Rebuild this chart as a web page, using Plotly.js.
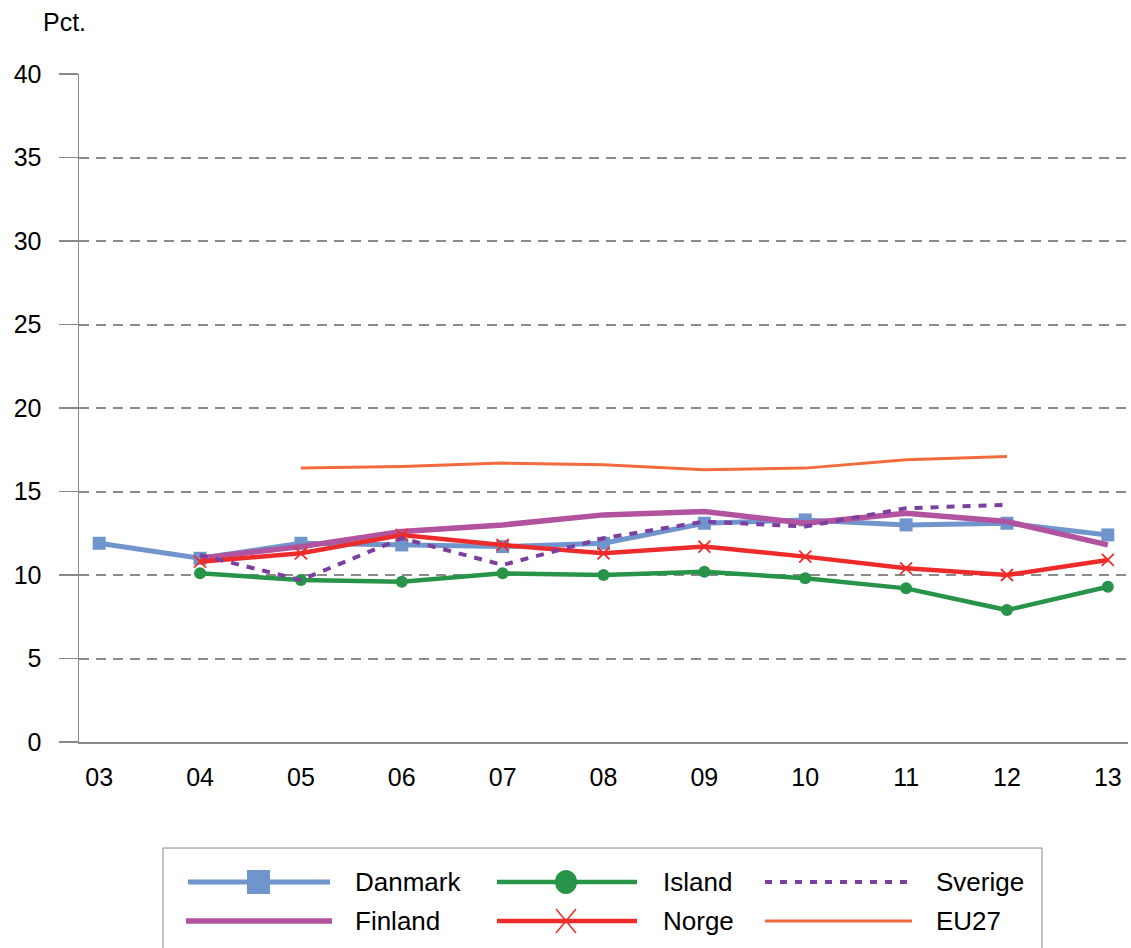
<!DOCTYPE html>
<html><head><meta charset="utf-8">
<script src="https://cdn.plot.ly/plotly-3.0.1.min.js"></script>
<style>html,body{margin:0;padding:0;background:#fff;}#chart{width:1131px;height:948px;}</style>
</head><body><div id="chart"></div>
<script>
const years = ['03','04','05','06','07','08','09','10','11','12','13'];
const danmark = [11.9, 11.0, 11.9, 11.8, 11.7, 11.9, 13.1, 13.3, 13.0, 13.1, 12.4];
const island  = [null, 10.1, 9.7, 9.6, 10.1, 10.0, 10.2, 9.8, 9.2, 7.9, 9.3];
const sverige = [null, 11.2, 9.7, 12.2, 10.6, 12.2, 13.2, 12.9, 14.0, 14.2, null];
const finland = [null, 11.0, 11.7, 12.6, 13.0, 13.6, 13.8, 13.1, 13.7, 13.2, 11.8];
const norge   = [null, 10.8, 11.3, 12.4, 11.8, 11.3, 11.7, 11.1, 10.4, 10.0, 10.9];
const eu27    = [null, null, 16.4, 16.5, 16.7, 16.6, 16.3, 16.4, 16.9, 17.1, null];
const yTicks = [0,5,10,15,20,25,30,35,40];

const C = {dk:'#7094cc', fi:'#b1539e', is:'#28944a', no:'#ee2b2b', se:'#7b3fa0', eu:'#f26b3f'};

const traces = [
  {name:'EU27', x:years, y:eu27, mode:'lines', line:{color:C.eu, width:3}},
  {name:'Island', x:years, y:island, mode:'lines+markers', line:{color:C.is, width:4.5},
   marker:{symbol:'circle', size:12, color:C.is}},
  {name:'Danmark', x:years, y:danmark, mode:'lines+markers', line:{color:C.dk, width:5},
   marker:{symbol:'square', size:13, color:C.dk}},
  {name:'Finland', x:years, y:finland, mode:'lines', line:{color:C.fi, width:5.5}},
  {name:'Norge', x:years, y:norge, mode:'lines+markers', line:{color:C.no, width:4.5},
   marker:{symbol:'x-thin-open', size:12, color:C.no, line:{color:C.no, width:1.8}}},
  {name:'Sverige', x:years, y:sverige, mode:'lines', line:{color:C.se, width:4, dash:'8px,8px'}}
];

// custom legend (Danmark, Island, Sverige / Finland, Norge, EU27)
const shapes = [];
const annotations = [];
const W = 1131, H = 948;
const ML = 79, MT = 74, PW = 1049, PH = 668;
const fx = v => (v - ML) / PW, fy = v => 1 - (v - MT) / PH;
function pline(x0,x1,y,color,width,dash){
  shapes.push({type:'line', xref:'paper', yref:'paper', x0:fx(x0), x1:fx(x1), y0:fy(y), y1:fy(y),
    line:{color:color, width:width, dash:dash||'solid'}, layer:'above'});
}
shapes.push({type:'rect', xref:'paper', yref:'paper', x0:fx(163), x1:fx(1042), y0:fy(848), y1:fy(960),
  line:{color:'#888', width:1}, fillcolor:'rgba(0,0,0,0)'});
const r1 = 882, r2 = 921;
pline(188,330,r1,C.dk,5);
shapes.push({type:'rect', xref:'paper', yref:'paper', x0:fx(247), x1:fx(270), y0:fy(r1-12), y1:fy(r1+12),
  fillcolor:C.dk, line:{width:0}});
pline(186,332,r2,C.fi,5.5);
pline(497,637,r1,C.is,4.5);
shapes.push({type:'circle', xref:'paper', yref:'paper', x0:fx(555), x1:fx(577), y0:fy(r1-12), y1:fy(r1+12),
  fillcolor:C.is, line:{width:0}});
pline(497,637,r2,C.no,4.5);
shapes.push({type:'line', xref:'paper', yref:'paper', x0:fx(556), x1:fx(576), y0:fy(r2-12), y1:fy(r2+12), line:{color:C.no, width:1.5}});
shapes.push({type:'line', xref:'paper', yref:'paper', x0:fx(556), x1:fx(576), y0:fy(r2+12), y1:fy(r2-12), line:{color:C.no, width:1.5}});
pline(765,912,r1,C.se,4,'7px,8px');
pline(765,912,r2,C.eu,3);
const lt = [['Danmark',353,r1],['Finland',353,r2],['Island',661,r1],['Norge',661,r2],['Sverige',934,r1],['EU27',934,r2]];
lt.forEach(([t,x,y]) => annotations.push({text:t, xref:'paper', yref:'paper', x:fx(x), y:fy(y),
  xanchor:'left', yanchor:'middle', showarrow:false, font:{size:26, color:'#000'}}));
annotations.push({text:'Pct.', xref:'paper', yref:'paper', x:fx(41), y:fy(22), xanchor:'left', yanchor:'middle',
  showarrow:false, font:{size:25, color:'#000'}});

const layout = {
  width:W, height:H,
  margin:{l:ML, r:W-ML-PW, t:MT, b:H-MT-PH},
  paper_bgcolor:'#fff', plot_bgcolor:'#fff',
  font:{family:'"Liberation Sans", Arial, sans-serif', size:25, color:'#000'},
  showlegend:false,
  xaxis:{type:'category', range:[-0.2, 10.2], tickvals:years, ticktext:years, showgrid:false, zeroline:false,
    showline:true, linecolor:'#888', linewidth:1.5, ticks:'', ticklabelstandoff:12, fixedrange:true,
    tickfont:{size:25}},
  yaxis:{range:[0,40], tickvals:yTicks, ticktext:yTicks.map(String), showgrid:true, gridcolor:'#8a8a8a', gridwidth:2,
    griddash:'10px,7px', zeroline:false, showline:true, linecolor:'#888', linewidth:1.5,
    ticks:'outside', ticklen:19, tickcolor:'#888', tickwidth:1.5, ticklabelstandoff:12, tickfont:{size:25}},
  shapes:shapes, annotations:annotations
};
Plotly.newPlot('chart', traces, layout, {displayModeBar:false, staticPlot:true});
</script></body></html>
